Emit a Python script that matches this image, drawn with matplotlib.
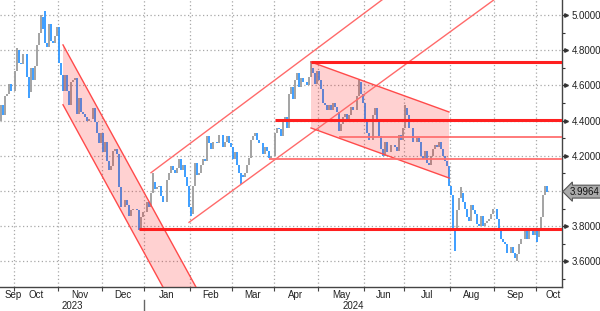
import numpy as np
import pandas as pd
import matplotlib
matplotlib.use("Agg")
import matplotlib.pyplot as plt
import matplotlib.transforms as mtransforms

plt.rcParams['font.family'] = ['Liberation Sans', 'DejaVu Sans']

# ---------------- data (daily closes, weekdays) ----------------
prev_close_start = 4.32
close_2023_09 = [4.37, 4.40, 4.49, 4.43, 4.54, 4.55, 4.61, 4.57, 4.57]
close_2023_10 = [4.68, 4.80, 4.73, 4.72, 4.78, 4.78, 4.65, 4.56, 4.70, 4.63, 4.71,
                 4.83, 4.90, 4.99, 4.92, 4.84, 4.82, 4.95, 4.85, 4.84, 4.88, 4.93]
close_2023_11 = [4.73, 4.66, 4.57, 4.66, 4.57, 4.49, 4.62, 4.63, 4.64, 4.44, 4.53,
                 4.45, 4.44, 4.42, 4.40, 4.41, 4.41, 4.47, 4.39, 4.33, 4.27, 4.33]
close_2023_12 = [4.22, 4.28, 4.17, 4.12, 4.14, 4.23, 4.24, 4.21, 4.02, 3.91, 3.91,
                 3.95, 3.92, 3.86, 3.89, 3.90, 3.90, 3.89, 3.79, 3.85, 3.88]
close_2024_01 = [3.88, 3.94, 3.91, 3.99, 4.05, 4.01, 4.02, 4.03, 3.97, 3.94, 3.94,
                 4.06, 4.10, 4.14, 4.12, 4.10, 4.13, 4.18, 4.12, 4.15, 4.08, 4.03, 3.91]
close_2024_02 = [3.87, 4.03, 4.16, 4.09, 4.10, 4.15, 4.18, 4.17, 4.31, 4.27, 4.24,
                 4.28, 4.28, 4.27, 4.32, 4.32, 4.25, 4.28, 4.31, 4.27, 4.25]
close_2024_03 = [4.18, 4.22, 4.15, 4.10, 4.09, 4.08, 4.10, 4.15, 4.19, 4.29, 4.31,
                 4.33, 4.29, 4.27, 4.27, 4.21, 4.25, 4.23, 4.19, 4.20, 4.20]
close_2024_04 = [4.33, 4.36, 4.35, 4.31, 4.40, 4.42, 4.36, 4.55, 4.59, 4.52, 4.63,
                 4.67, 4.59, 4.64, 4.62, 4.62, 4.60, 4.65, 4.70, 4.67, 4.61, 4.68]
close_2024_05 = [4.63, 4.58, 4.50, 4.49, 4.46, 4.49, 4.46, 4.50, 4.48, 4.45, 4.34,
                 4.38, 4.42, 4.44, 4.41, 4.43, 4.48, 4.46, 4.46, 4.54, 4.62, 4.55, 4.50]
close_2024_06 = [4.40, 4.33, 4.29, 4.29, 4.43, 4.47, 4.40, 4.31, 4.24, 4.20,
                 4.28, 4.22, 4.22, 4.26, 4.26, 4.25, 4.23, 4.32, 4.29, 4.36]
close_2024_07 = [4.47, 4.43, 4.36, 4.36, 4.28, 4.28, 4.30, 4.28, 4.20, 4.18, 4.23,
                 4.16, 4.15, 4.20, 4.24, 4.26, 4.25, 4.28, 4.24, 4.20, 4.17, 4.14, 4.03]
close_2024_08 = [3.98, 3.79, 3.78, 3.89, 3.96, 3.99, 3.94, 3.90, 3.85, 3.83, 3.92,
                 3.89, 3.87, 3.81, 3.80, 3.86, 3.80, 3.82, 3.83, 3.84, 3.87, 3.90]
close_2024_09 = [3.90, 3.84, 3.77, 3.73, 3.71, 3.70, 3.65, 3.65, 3.68, 3.65, 3.62,
                 3.64, 3.70, 3.73, 3.73, 3.79, 3.73, 3.78, 3.79, 3.75, 3.78]
close_2024_10 = [3.74, 3.79, 3.85, 3.98, 4.03, 3.9964]

# intraday extremes
high_dates = ['2023-10-03', '2023-10-19', '2023-10-23', '2024-01-05', '2024-04-25',
              '2024-05-29', '2024-07-01', '2024-08-08']
high_vals = [4.81, 5.00, 5.02, 4.10, 4.74, 4.63, 4.49, 4.02]
low_dates = ['2023-10-11', '2023-12-27', '2024-02-01', '2024-03-07', '2024-08-05',
             '2024-09-17', '2024-10-01']
low_vals = [4.53, 3.78, 3.86, 4.04, 3.66, 3.60, 3.71]

# drawn studies
chan_dn_start = '2023-11-03'; chan_dn_top0 = 4.83; chan_dn_bot0 = 4.49
chan_dn_top_end = ('2024-02-13', 3.34); chan_dn_bot_end = ('2024-01-19', 3.35)
chan_up_low = [('2024-01-31', 3.822), ('2024-09-18', 5.19)]
chan_up_high = [('2024-01-04', 4.104), ('2024-07-08', 5.226)]
chan2_start = '2024-04-25'; chan2_end = '2024-07-31'
chan2_top = (4.733, 4.449); chan2_bot = (4.358, 4.074)
hlines_thick = [('2023-12-27', 3.784), ('2024-04-01', 4.403), ('2024-04-25', 4.735)]
hlines_thin = [('2024-05-15', 4.309), ('2024-03-27', 4.182)]

# ---------------- build ----------------
dates = pd.bdate_range('2023-09-19', '2024-10-08')
close = np.array(close_2023_09 + close_2023_10 + close_2023_11 + close_2023_12 +
                 close_2024_01 + close_2024_02 + close_2024_03 + close_2024_04 +
                 close_2024_05 + close_2024_06 + close_2024_07 + close_2024_08 +
                 close_2024_09 + close_2024_10)
assert len(close) == len(dates), (len(close), len(dates))
x = np.arange(len(dates))
opn = np.concatenate([[prev_close_start], close[:-1]])
lo = np.minimum(opn, close)
hi = np.maximum(opn, close)


def pos(d):
    return float(dates.get_loc(pd.Timestamp(d)))


for d, v in zip(high_dates, high_vals):
    hi[int(pos(d))] = max(hi[int(pos(d))], v)
for d, v in zip(low_dates, low_vals):
    lo[int(pos(d))] = min(lo[int(pos(d))], v)

BLUE = '#2e96ff'
GRAY = '#9c9c9c'
RED = '#ff1f1f'
colors = [BLUE if c < o else GRAY for o, c in zip(opn, close)]

fig = plt.figure(figsize=(6.0, 3.11), dpi=100)
ax = fig.add_axes([0, 1 - 287 / 311, 562 / 600, 287 / 311])

i0 = pos('2023-10-02')
xl = (i0 - 7.5, i0 + 273.5)
yl = (3.4545, 5.0852)
ax.set_xlim(*xl)
ax.set_ylim(*yl)

ax.vlines(x, lo, hi, colors=colors, lw=1.3, zorder=2)

# month boundaries
mper = dates.to_period('M')
bnd = [i - 0.5 for i in range(1, len(dates)) if mper[i] != mper[i - 1]]
bnd_months = [mper[int(b + 0.5)] for b in bnd]

grid_kw = dict(color='#a8a8a8', lw=0.9, ls=(0, (1, 2)), zorder=1)
for b in bnd:
    ax.axvline(b, **grid_kw)
yt = np.round(np.arange(3.6, 5.01, 0.2), 1)
for v in yt:
    ax.axhline(v, **grid_kw)

# descending channel (Nov-Jan) with fill
a0 = pos(chan_dn_start)
pt_top_end = (pos(chan_dn_top_end[0]), chan_dn_top_end[1])
pt_bot_end = (pos(chan_dn_bot_end[0]), chan_dn_bot_end[1])
poly = [(a0, chan_dn_top0), pt_top_end, pt_bot_end, (a0, chan_dn_bot0)]
ax.fill([p[0] for p in poly], [p[1] for p in poly], color='#ff0000', alpha=0.18, lw=0, zorder=3)
ax.plot([a0, pt_top_end[0]], [chan_dn_top0, pt_top_end[1]], color='#ff4a4a', lw=1.0, zorder=4)
ax.plot([a0, pt_bot_end[0]], [chan_dn_bot0, pt_bot_end[1]], color='#ff4a4a', lw=1.0, zorder=4)

# rising channel lines
for seg in (chan_up_low, chan_up_high):
    ax.plot([pos(seg[0][0]), pos(seg[1][0])], [seg[0][1], seg[1][1]],
            color='#ff6a6a', lw=1.0, zorder=4)

# Apr-Jul channel with fill
c0, c1 = pos(chan2_start), pos(chan2_end)
ax.fill([c0, c1, c1, c0], [chan2_top[0], chan2_top[1], chan2_bot[1], chan2_bot[0]],
        color='#ff0000', alpha=0.18, lw=0, zorder=3)
ax.plot([c0, c1], chan2_top, color='#ff4a4a', lw=1.0, zorder=4)
ax.plot([c0, c1], chan2_bot, color='#ff4a4a', lw=1.0, zorder=4)

for d, v in hlines_thin:
    ax.plot([pos(d), xl[1]], [v, v], color='#ff7070', lw=1.3, zorder=4, solid_capstyle='butt')
for d, v in hlines_thick:
    ax.plot([pos(d), xl[1]], [v, v], color=RED, lw=2.2, zorder=5, solid_capstyle='butt')

# axes styling
for s in ('top', 'left'):
    ax.spines[s].set_visible(False)
for s in ('right', 'bottom'):
    ax.spines[s].set_color('#444444')
    ax.spines[s].set_linewidth(1.0)

ax.yaxis.tick_right()
ax.set_yticks(yt)
ax.set_yticklabels(['' if abs(v - 4.0) < 1e-9 else f'{v:.4f}' for v in yt])
ax.set_yticks(np.round(np.arange(3.5, 5.09, 0.1), 1), minor=True)
ax.tick_params(axis='y', which='major', direction='out', length=4, width=1.0,
               color='#333333', labelsize=7, pad=3, labelcolor='#222222')
ax.tick_params(axis='y', which='minor', direction='out', length=2.5, width=0.8, color='#333333')
ax.set_xticks(bnd)
ax.tick_params(axis='x', which='major', direction='out', length=3, width=0.8,
               color='#444444', labelbottom=False)

# little arrow heads on major y ticks
tr_y = mtransforms.blended_transform_factory(ax.transAxes, ax.transData)
ax.plot([1.0075] * len(yt), yt, ls='none', marker='>', ms=2.5, color='#333333',
        transform=tr_y, clip_on=False)

# month and year labels
tr_x = mtransforms.blended_transform_factory(ax.transData, ax.transAxes)
edges = [xl[0]] + bnd + [xl[1]]
labels = [mper[0]] + bnd_months
for k, per in enumerate(labels):
    c = (edges[k] + edges[k + 1]) / 2
    if k == 0:
        c = xl[0] + 6.5
    if k == len(labels) - 1:
        c = xl[1] - 4.5
    ax.text(c, -0.028, per.strftime('%b'), transform=tr_x, ha='center', va='center',
            fontsize=7, color='#222222', clip_on=False)
ybnd = [b for b, m in zip(bnd, bnd_months) if m.month == 1][0]
ax.text((xl[0] + ybnd) / 2, -0.066, '2023', transform=tr_x, ha='center', va='center',
        fontsize=7, color='#222222', clip_on=False)
ax.text((ybnd + xl[1]) / 2, -0.066, '2024', transform=tr_x, ha='center', va='center',
        fontsize=7, color='#222222', clip_on=False)
ax.plot([ybnd, ybnd], [-0.045, -0.085], transform=tr_x, color='#666666', lw=1.0, clip_on=False)

# last price tag
last = close[-1]
ax.text(1.0135, last, f'{last:.4f}', transform=tr_y, ha='left', va='center', fontsize=7,
        color='#111111', clip_on=False,
        bbox=dict(boxstyle='larrow,pad=0.15', fc='#a9a9a9', ec='#555555', lw=0.8))

fig.savefig('out.png', dpi=100)
